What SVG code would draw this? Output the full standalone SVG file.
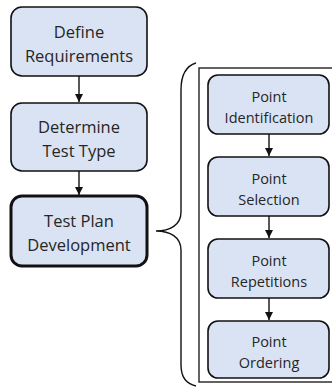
<svg xmlns="http://www.w3.org/2000/svg" width="332" height="389" viewBox="0 0 332 389">
<defs>
<style>
.box{fill:#dae3f3;stroke:#111;stroke-width:1.6}
.thick{stroke-width:3}
.t{font-family:"Open Sans","Liberation Sans",sans-serif;fill:#262626;text-anchor:middle}
.big{font-size:16.5px}
.sm{font-size:14.5px}
.conn{stroke:#111;stroke-width:1.4;fill:none}
</style>
<marker id="ah" viewBox="0 0 10 10" refX="10" refY="5" markerWidth="8" markerHeight="8" markerUnits="userSpaceOnUse" orient="auto">
<path d="M0,0 L10,5 L0,10 z" fill="#111"/>
</marker>
</defs>
<rect x="0" y="0" width="332" height="389" fill="#fff"/>
<g id="container"><rect x="199" y="68" width="140" height="314" fill="none" stroke="#222" stroke-width="1.4"/></g>
<g id="brace"><path class="conn" d="M196,63 C186,66 181,75 181,90 L181,212 C181,225 170,231 156,231 C170,231 181,237 181,250 L181,365 C181,378 187,384 196,386"/></g>
<g id="n1"><rect class="box" x="11" y="7" width="136" height="69" rx="11"/>
<text class="t big" x="79" y="38">Define</text><text class="t big" x="79" y="62">Requirements</text></g>
<g id="n2"><rect class="box" x="11" y="103" width="136" height="68" rx="11"/>
<text class="t big" x="79" y="133">Determine</text><text class="t big" x="79" y="157">Test Type</text></g>
<g id="n3"><rect class="box thick" x="11" y="196" width="136" height="70" rx="11"/>
<text class="t big" x="79" y="227">Test Plan</text><text class="t big" x="79" y="251">Development</text></g>
<g id="p1"><rect class="box" x="208" y="75" width="121" height="59" rx="10"/>
<text class="t sm" x="269" y="102">Point</text><text class="t sm" x="269" y="123">Identification</text></g>
<g id="p2"><rect class="box" x="208" y="157" width="121" height="59" rx="10"/>
<text class="t sm" x="269" y="184">Point</text><text class="t sm" x="269" y="205">Selection</text></g>
<g id="p3"><rect class="box" x="208" y="239" width="121" height="59" rx="10"/>
<text class="t sm" x="269" y="266">Point</text><text class="t sm" x="269" y="287">Repetitions</text></g>
<g id="p4"><rect class="box" x="208" y="321" width="121" height="57" rx="10"/>
<text class="t sm" x="269" y="347">Point</text><text class="t sm" x="269" y="368">Ordering</text></g>
<g id="connectors">
<line class="conn" x1="79" y1="76" x2="79" y2="102" marker-end="url(#ah)"/>
<line class="conn" x1="79" y1="171" x2="79" y2="195" marker-end="url(#ah)"/>
<line class="conn" x1="269" y1="134" x2="269" y2="156" marker-end="url(#ah)"/>
<line class="conn" x1="269" y1="216" x2="269" y2="238" marker-end="url(#ah)"/>
<line class="conn" x1="269" y1="298" x2="269" y2="320" marker-end="url(#ah)"/>
</g>
</svg>
